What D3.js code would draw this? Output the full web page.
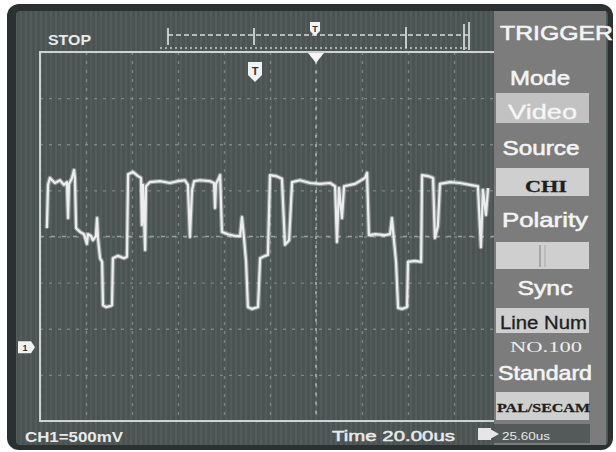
<!DOCTYPE html>
<html><head><meta charset="utf-8">
<script src="https://cdn.jsdelivr.net/npm/d3@7"></script>
<style>html,body{margin:0;padding:0;background:#fff;overflow:hidden}</style>
</head><body>
<svg id="c" width="616" height="452"></svg>
<script>
// ---- data (time in µs relative to trigger, voltage in mV) ----
const timeUs = [-117.0,-116.5,-115.7,-113.5,-111.3,-109.6,-108.3,-107.8,-107.4,-106.1,-105.2,-104.8,-104.3,-102.6,-100.9,-99.6,-99.1,-97.8,-97.0,-95.7,-95.2,-94.8,-93.9,-93.0,-92.6,-91.3,-89.6,-88.7,-88.3,-86.1,-83.5,-82.2,-81.7,-79.6,-77.4,-76.1,-75.7,-75.2,-74.3,-73.9,-72.2,-67.8,-63.5,-60.0,-57.0,-55.7,-54.8,-53.9,-53.0,-50.4,-46.1,-44.3,-43.9,-43.5,-42.2,-41.7,-40.9,-38.3,-35.2,-33.0,-32.2,-31.3,-30.4,-29.6,-27.8,-25.2,-24.3,-22.2,-20.9,-20.0,-17.4,-14.8,-13.5,-11.7,-10.4,-7.0,-2.6,1.7,6.1,8.3,9.1,10.0,11.3,12.2,17.0,21.3,22.2,23.0,25.7,30.0,32.2,33.0,33.9,34.8,35.7,37.4,39.6,40.0,43.0,45.7,46.1,48.7,50.9,51.7,53.0,53.9,58.3,62.6,67.0,70.4,71.7,72.6,73.9,74.8];
const voltageMv = [1290,1760,1835,1780,1810,1760,1790,1400,1770,1835,1920,1835,1290,1250,1225,1120,1225,1205,1160,1205,1400,1185,965,925,455,435,445,455,965,990,965,980,1875,1900,1855,1835,1325,1760,1055,1745,1790,1800,1780,1800,1810,1760,1195,1705,1800,1810,1800,1780,1510,1770,1835,1865,1250,1225,1205,1205,1410,1185,925,435,415,435,965,990,1000,1865,1855,1825,1110,1160,1790,1810,1780,1770,1780,1745,1140,1725,1400,1745,1770,1835,1890,1215,1225,1215,1225,1400,1160,925,425,415,435,925,935,925,1865,1855,1835,1185,1315,1770,1790,1780,1760,1745,1085,1705,1435,1725];
const gridTimeTicks = d3.range(-120, 121, 20);   // 20 µs/div
const gridVoltTicks = d3.range(-800, 3201, 500);  // 500 mV/div
const statusText = "STOP";
const channelLabel = "CH1=500mV";
const timebaseLabel = "Time 20.00us";
const triggerDelayLabel = "25.60us";
const menuTitle = "TRIGGER";
const menuLabels = ["Mode", "Source", "Polarity", "Sync", "Standard"];
const menuValues = ["Video", "CHI", "", "Line Num", "PAL/SECAM"];
const lineNumberLabel = "NO.100";

// ---- layout ----
const svg = d3.select("#c");
const P = {l: 40, r: 592, t: 52, b: 421};
const x = d3.scaleLinear().domain([-120, 120]).range([P.l, P.r]);
const y = d3.scaleLinear().domain([-800, 3200]).range([P.b, P.t]);
const SANS = "'Liberation Sans', Arial, sans-serif";
const SERIF = "'Liberation Serif', 'Times New Roman', serif";

const defs = svg.append("defs");
const pat = defs.append("pattern").attr("id", "stripes").attr("patternUnits", "userSpaceOnUse")
  .attr("width", 5).attr("height", 10);
pat.append("rect").attr("width", 5).attr("height", 10).attr("fill", "#4b5353");
pat.append("rect").attr("x", 0).attr("width", 2).attr("height", 10).attr("fill", "#535b5b");
defs.append("clipPath").attr("id", "plotclip").append("rect")
  .attr("x", P.l).attr("y", P.t).attr("width", P.r - P.l).attr("height", P.b - P.t);
const glow = defs.append("filter").attr("id", "glow").attr("x", "-5%").attr("y", "-5%").attr("width", "110%").attr("height", "110%");
glow.append("feGaussianBlur").attr("stdDeviation", 0.7);

// bezel + screen
svg.append("rect").attr("x", 7).attr("y", 4).attr("width", 606).attr("height", 446).attr("rx", 12).attr("fill", "#2b3030");
svg.append("rect").attr("x", 16).attr("y", 11).attr("width", 592).attr("height", 434).attr("rx", 4).attr("fill", "url(#stripes)");

// grid via axes
const gx = svg.append("g").attr("transform", `translate(0,${P.t})`)
  .call(d3.axisTop(x).tickValues(gridTimeTicks).tickSize(-(P.b - P.t)).tickFormat(""));
const gy = svg.append("g").attr("transform", `translate(${P.l},0)`)
  .call(d3.axisLeft(y).tickValues(gridVoltTicks).tickSize(-(P.r - P.l)).tickFormat(""));
[gx, gy].forEach(g => {
  g.select(".domain").remove();
  g.selectAll("line").attr("stroke", "#8c9494").attr("stroke-width", 1.4)
    .attr("stroke-dasharray", "3,6").attr("opacity", 0.75);
});
// centre axes denser
svg.append("line").attr("x1", x(0)).attr("x2", x(0)).attr("y1", P.t).attr("y2", P.b)
  .attr("stroke", "#9aa2a2").attr("stroke-width", 2).attr("stroke-dasharray", "3,6.2");
svg.append("line").attr("x1", P.l).attr("x2", P.r).attr("y1", y(1200)).attr("y2", y(1200))
  .attr("stroke", "#9aa2a2").attr("stroke-width", 1.6).attr("stroke-dasharray", "4,7");

// plot border
svg.append("rect").attr("x", P.l).attr("y", P.t).attr("width", P.r - P.l).attr("height", P.b - P.t)
  .attr("fill", "none").attr("stroke", "#cfd2d2").attr("stroke-width", 2);

// waveform
const pts = timeUs.map((t, i) => [t, voltageMv[i]]);
const line = d3.line().x(d => x(d[0])).y(d => y(d[1]));
const wg = svg.append("g").attr("clip-path", "url(#plotclip)");
wg.append("path").datum(pts).attr("d", line).attr("fill", "none")
  .attr("stroke", "#ffffff").attr("stroke-opacity", 0.35).attr("stroke-width", 4.5).attr("stroke-linejoin", "round").attr("filter", "url(#glow)");
wg.append("path").datum(pts).attr("d", line).attr("fill", "none")
  .attr("stroke", "#eceeee").attr("stroke-width", 2.2).attr("stroke-linejoin", "round");

// top status strip
svg.append("text").attr("x", 48).attr("y", 45).attr("fill", "#e8eaea").attr("font-family", SANS)
  .attr("font-weight", "bold").attr("font-size", 14).attr("textLength", 43).attr("lengthAdjust", "spacingAndGlyphs").text(statusText);
svg.append("line").attr("x1", 168).attr("x2", 468).attr("y1", 35).attr("y2", 35)
  .attr("stroke", "#d8dcdc").attr("stroke-width", 1.3).attr("stroke-dasharray", "5,3");
svg.append("line").attr("x1", 160).attr("x2", 470).attr("y1", 48).attr("y2", 48)
  .attr("stroke", "#c8cccc").attr("stroke-width", 1.5).attr("stroke-dasharray", "2,3");
[[168, 28, 45], [254, 28, 45], [406, 27, 48], [464, 24, 50], [469, 22, 50]].forEach(d => {
  svg.append("line").attr("x1", d[0]).attr("x2", d[0]).attr("y1", d[1]).attr("y2", d[2])
    .attr("stroke", "#e4e6e6").attr("stroke-width", 1.6);
});
// memory trigger marker
svg.append("path").attr("d", "M310,22 h10 v9 l-5,5 l-5,-5 z").attr("fill", "#f2f2f2");
svg.append("text").attr("x", 315).attr("y", 32).attr("text-anchor", "middle").attr("font-size", 9)
  .attr("font-weight", "bold").attr("font-family", SANS).attr("fill", "#333").text("T");
// trigger position triangle
svg.append("path").attr("d", `M${x(0) - 8},53 h16 l-8,10 z`).attr("fill", "#f4f4f4");
// trigger level marker
svg.append("path").attr("d", "M248,62 h14 v13 l-7,7 l-7,-7 z").attr("fill", "#f2f2f2");
svg.append("text").attr("x", 255).attr("y", 75).attr("text-anchor", "middle").attr("font-size", 11)
  .attr("font-weight", "bold").attr("font-family", SANS).attr("fill", "#333").text("T");
// channel ground marker
svg.append("path").attr("d", `M18,${y(0) - 6} h13 l4,6 l-4,6 h-13 z`).attr("fill", "#f2f2f2");
svg.append("text").attr("x", 25).attr("y", y(0) + 3.5).attr("text-anchor", "middle").attr("font-size", 9)
  .attr("font-weight", "bold").attr("font-family", SANS).attr("fill", "#333").text("1");

// bottom strip
svg.append("text").attr("x", 25).attr("y", 442).attr("fill", "#e8eaea").attr("font-family", SANS)
  .attr("font-weight", "bold").attr("font-size", 14).attr("textLength", 98).attr("lengthAdjust", "spacingAndGlyphs").text(channelLabel);
svg.append("text").attr("x", 332).attr("y", 441).attr("fill", "#e8eaea").attr("font-family", SANS)
  .attr("font-size", 15).attr("stroke", "#e8eaea").attr("stroke-width", 0.5)
  .attr("textLength", 123).attr("lengthAdjust", "spacingAndGlyphs").text(timebaseLabel);

// right menu panel
const px0 = 494, px1 = 606;
svg.append("rect").attr("x", px0).attr("y", 11).attr("width", px1 - px0).attr("height", 434).attr("fill", "#7c7c7c");
svg.append("text").attr("x", 500).attr("y", 40).attr("fill", "#f4f4f4").attr("font-family", SANS)
  .attr("font-size", 21).attr("stroke", "#f4f4f4").attr("stroke-width", 0.6)
  .attr("textLength", 113).attr("lengthAdjust", "spacingAndGlyphs").text(menuTitle);

const labelPos = [[540, 85, 60], [541, 155, 77], [545, 227, 86], [545, 295, 55], [545, 380, 94]];
menuLabels.forEach((t, i) => {
  const p = labelPos[i];
  svg.append("text").attr("x", p[0] - p[2] / 2).attr("y", p[1]).attr("fill", "#f4f4f4")
    .attr("stroke", "#f4f4f4").attr("stroke-width", 0.6)
    .attr("font-family", SANS).attr("font-size", 21).attr("textLength", p[2])
    .attr("lengthAdjust", "spacingAndGlyphs").text(t);
});
const boxPos = [[93, 123], [168, 196], [242, 269], [308, 333], [392, 420]];
const valStyle = [
  {x: 508, y: 119, w: 69, fs: 20, fam: SANS, c: "#f6f6f6", fw: "normal"},
  {x: 525, y: 192, w: 42, fs: 17, fam: SERIF, c: "#1e1e1e", fw: "bold"},
  null,
  {x: 500, y: 329, w: 87, fs: 18, fam: SANS, c: "#1e1e1e", fw: "normal"},
  {x: 497, y: 412, w: 93, fs: 13, fam: SERIF, c: "#1e1e1e", fw: "bold"}
];
menuValues.forEach((t, i) => {
  const b = boxPos[i];
  svg.append("rect").attr("x", 496).attr("y", b[0]).attr("width", 93).attr("height", b[1] - b[0])
    .attr("fill", i === 0 ? "#c2c2c2" : "#cfcfcf");
  const s = valStyle[i];
  if (s && t) {
    svg.append("text").attr("x", s.x).attr("y", s.y).attr("fill", s.c).attr("font-family", s.fam)
      .attr("font-weight", s.fw).attr("font-size", s.fs).attr("textLength", s.w)
      .attr("stroke", s.c).attr("stroke-width", 0.3)
      .attr("lengthAdjust", "spacingAndGlyphs").text(t);
  }
});
// polarity icon
svg.append("line").attr("x1", 540).attr("x2", 540).attr("y1", 245).attr("y2", 267).attr("stroke", "#9a9a9a").attr("stroke-width", 1.5);
svg.append("line").attr("x1", 545).attr("x2", 545).attr("y1", 245).attr("y2", 267).attr("stroke", "#a8a8a8").attr("stroke-width", 1);
svg.append("text").attr("x", 510).attr("y", 352).attr("fill", "#eeeeee").attr("font-family", SERIF)
  .attr("font-size", 15).attr("textLength", 72).attr("lengthAdjust", "spacingAndGlyphs").text(lineNumberLabel);
// trigger delay box
svg.append("rect").attr("x", 494).attr("y", 424).attr("width", 96).attr("height", 19).attr("fill", "#545a5a");
svg.append("rect").attr("x", 478).attr("y", 428).attr("width", 13).attr("height", 12).attr("fill", "#e6e6e6");
svg.append("path").attr("d", "M490,429 l9,5 l-9,5 z").attr("fill", "#e6e6e6");
svg.append("text").attr("x", 502).attr("y", 440).attr("fill", "#e8e8e8").attr("font-family", SANS)
  .attr("font-size", 10).attr("textLength", 48).attr("lengthAdjust", "spacingAndGlyphs").text(triggerDelayLabel);
</script>
</body></html>
